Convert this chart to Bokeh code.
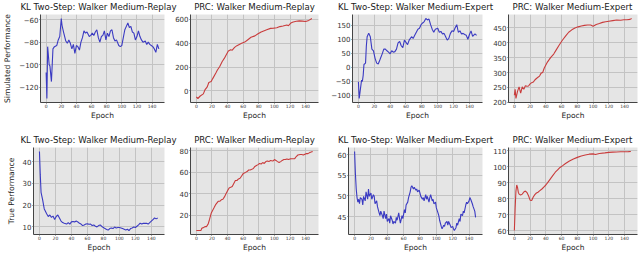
from bokeh.plotting import figure
from bokeh.layouts import column, row
from bokeh.models import Range1d, FixedTicker, Label
from bokeh.embed import file_html
from bokeh.resources import INLINE

FONT = "DejaVu Sans"

# ---------------- data ----------------
kl_replay_sim_epoch = [0, 1, 2, 4, 5, 7, 9, 11, 14, 16, 18, 20, 21, 23, 26, 28, 30, 32, 34, 36,
                       38, 40, 42, 44, 46, 48, 50, 52, 54, 57, 59, 61, 63, 65, 67, 69, 71, 73, 75, 77,
                       79, 81, 83, 85, 87, 89, 91, 93, 96, 98, 100, 102, 104, 106, 108, 110, 112, 114, 116, 118,
                       120, 122, 124, 126, 128, 131, 133, 135, 137, 139, 141, 143, 145, 147, 149]
kl_replay_sim_value = [-107, -130, -84, -100, -101, -115, -86, -84, -83, -78, -75, -59, -65, -71, -79, -81, -78, -81, -86, -82,
                       -90, -83, -84, -87, -80, -76, -70, -72, -71, -75, -74, -72, -74, -71, -69, -76, -80, -75, -74, -70,
                       -78, -72, -75, -70, -69, -76, -79, -78, -83, -84, -83, -76, -69, -66, -63, -67, -66, -71, -72, -78,
                       -75, -70, -75, -78, -80, -79, -82, -80, -82, -83, -84, -86, -89, -82, -86]

prc_replay_sim_epoch = [0, 2, 5, 9, 11, 14, 16, 19, 21, 25, 27, 30, 33, 36, 38, 41, 44, 46, 49, 52,
                        55, 58, 62, 66, 70, 75, 79, 83, 87, 91, 95, 99, 103, 107, 111, 116, 118, 121, 124, 128,
                        132, 136, 140, 144, 148]
prc_replay_sim_value = [-51, -64, -43, -25, 8, 34, 70, 78, 103, 150, 175, 205, 245, 275, 300, 335, 345, 342, 365, 380,
                        390, 400, 410, 430, 450, 462, 480, 495, 505, 515, 525, 527, 530, 540, 545, 553, 548, 570, 578, 585,
                        588, 586, 583, 592, 608]

kl_expert_sim_epoch = [0, 1, 2, 4, 5, 6, 7, 9, 10, 11, 13, 15, 17, 19, 21, 23, 25, 27, 30, 32,
                       34, 36, 38, 40, 42, 44, 46, 48, 50, 52, 54, 56, 58, 60, 62, 64, 67, 69, 71, 73,
                       75, 77, 79, 81, 83, 85, 87, 89, 91, 93, 95, 97, 100, 102, 104, 106, 108, 110, 112, 114,
                       116, 118, 120, 122, 124, 126, 128, 130, 132, 134, 136, 138, 140, 142, 144, 147, 149]
kl_expert_sim_value = [-51, -111, -89, -45, -50, -29, 10, 15, 76, 109, 122, 109, 65, 59, 32, 15, 12, 26, 48, 65,
                       65, 59, 54, 48, 59, 54, 56, 65, 87, 92, 77, 70, 97, 89, 81, 97, 109, 103, 114, 125,
                       136, 139, 152, 158, 163, 174, 169, 172, 152, 136, 125, 136, 139, 125, 128, 119, 121, 109, 97, 103,
                       121, 130, 128, 141, 152, 125, 130, 119, 121, 117, 114, 100, 117, 130, 110, 119, 114]

prc_expert_sim_epoch = [0, 1, 2, 4, 6, 8, 10, 12, 14, 16, 18, 20, 22, 24, 26, 28, 30, 32, 34, 36,
                        38, 42, 46, 50, 53, 57, 61, 65, 69, 73, 77, 81, 85, 89, 93, 97, 100, 104, 108, 112,
                        116, 120, 125, 130, 135, 139, 143, 147, 149]
prc_expert_sim_value = [224, 244, 213, 237, 252, 231, 252, 244, 256, 254, 255, 262, 266, 268, 275, 280, 284, 288, 298, 300,
                        315, 335, 350, 362, 375, 392, 408, 422, 435, 443, 449, 453, 456, 458, 459, 459, 455, 461, 464, 468,
                        470, 472, 474, 476, 475, 477, 477, 478, 481]

kl_replay_true_epoch = [0, 1, 2, 4, 6, 7, 9, 11, 13, 15, 17, 19, 21, 23, 25, 27, 29, 31, 34, 36,
                        38, 40, 42, 44, 46, 48, 50, 52, 54, 56, 58, 60, 62, 64, 66, 68, 70, 72, 74, 76,
                        78, 80, 82, 84, 86, 88, 90, 92, 94, 96, 98, 100, 102, 104, 106, 108, 110, 112, 114, 116,
                        118, 120, 122, 124, 126, 128, 130, 132, 134, 136, 138, 140, 142, 144, 146, 148]
kl_replay_true_value = [44.8, 34.3, 25.9, 22.4, 18.2, 17.5, 16.0, 14.7, 15.4, 14.3, 14.9, 13.3, 14.7, 15.4, 14.0, 12.6, 11.9, 11.6, 11.2, 11.9,
                        11.2, 12.2, 12.4, 12.2, 12.6, 12.2, 11.6, 11.2, 10.5, 10.8, 11.2, 11.3, 11.1, 11.2, 10.5, 10.8, 10.2, 9.9, 10.5, 10.8,
                        10.1, 9.6, 9.1, 8.7, 8.4, 9.1, 9.4, 9.1, 9.8, 9.4, 9.6, 9.6, 9.4, 9.1, 8.8, 8.5, 8.8, 8.2, 9.1, 9.4,
                        9.8, 9.6, 10.2, 10.8, 11.6, 11.2, 11.6, 11.5, 11.6, 11.2, 11.9, 12.6, 13.3, 14.0, 13.6, 14.0]

prc_replay_true_epoch = [0, 3, 6, 7, 9, 11, 13, 15, 17, 19, 21, 23, 25, 28, 30, 32, 34, 36, 38, 40,
                         42, 44, 46, 48, 50, 52, 54, 56, 58, 60, 63, 65, 67, 69, 71, 73, 75, 77, 79, 81,
                         83, 85, 87, 89, 91, 93, 95, 98, 100, 102, 104, 106, 108, 110, 112, 114, 116, 118, 120, 122,
                         124, 126, 128, 130, 133, 135, 137, 139, 141, 143, 145, 147, 149]
prc_replay_true_value = [5.9, 5.9, 6.1, 8.0, 8.6, 9.5, 9.5, 11.7, 16.4, 21.9, 24.7, 27.4, 30.2, 33.0, 33.0, 34.4, 34.9, 37.1, 39.9, 42.7,
                         45.4, 46.0, 46.8, 49.6, 52.3, 52.3, 53.7, 54.3, 56.5, 58.7, 59.8, 60.6, 62.0, 62.0, 62.6, 63.4, 65.3, 66.2, 67.0, 68.1,
                         67.6, 68.9, 68.1, 69.8, 70.3, 69.8, 70.9, 70.3, 71.7, 70.9, 69.8, 68.9, 69.8, 70.9, 71.7, 71.7, 72.3, 71.7, 72.3, 72.5,
                         72.5, 72.5, 74.5, 75.9, 76.4, 76.4, 75.9, 76.7, 77.2, 77.2, 78.1, 78.6, 79.2]

kl_expert_true_epoch = [0, 1, 2, 3, 4, 5, 6, 7, 9, 10, 11, 13, 14, 16, 17, 18, 20, 21, 23, 24,
                        25, 27, 28, 30, 31, 32, 34, 35, 36, 38, 39, 40, 42, 43, 44, 46, 47, 48, 50, 51,
                        52, 54, 55, 56, 58, 59, 61, 62, 63, 65, 66, 68, 69, 70, 72, 73, 75, 76, 77, 79,
                        80, 81, 83, 84, 85, 87, 88, 89, 91, 92, 93, 95, 96, 97, 99, 100, 102, 103, 104, 106,
                        107, 109, 110, 111, 113, 114, 115, 117, 118, 120, 121, 122, 124, 125, 126, 128, 129, 130, 132, 133,
                        134, 136, 137, 138, 140, 141, 142, 144, 145, 147, 148]
kl_expert_true_value = [60.8, 55.4, 51.7, 49.6, 48.5, 49.2, 48.1, 49.6, 49.2, 47.8, 49.9, 48.8, 51.0, 49.2, 51.7, 49.9, 50.7, 49.2, 50.3, 49.9,
                        48.1, 48.8, 47.4, 45.9, 45.2, 46.3, 45.2, 44.5, 46.3, 44.5, 45.6, 43.8, 44.5, 43.4, 45.2, 44.1, 43.2, 43.8, 43.4, 44.8,
                        44.1, 45.9, 44.5, 43.4, 45.2, 44.5, 46.7, 45.9, 47.8, 48.5, 49.6, 51.0, 52.1, 52.5, 51.7, 52.1, 51.4, 51.7, 51.0, 51.4,
                        50.7, 49.9, 49.2, 49.6, 48.8, 50.3, 49.2, 49.9, 48.5, 49.6, 50.3, 48.8, 49.2, 48.1, 48.5, 47.1, 45.9, 45.2, 44.1, 42.6,
                        42.0, 42.9, 42.6, 43.4, 43.8, 42.9, 43.8, 42.9, 42.3, 42.6, 42.0, 41.6, 42.3, 43.4, 42.9, 44.5, 43.8, 45.6, 45.2, 46.3,
                        45.9, 47.8, 48.5, 48.1, 48.8, 49.6, 49.2, 48.1, 47.4, 46.3, 44.8]

prc_expert_true_epoch = [0, 1, 2, 3, 4, 5, 6, 8, 10, 12, 14, 16, 18, 20, 22, 24, 26, 28, 30, 32,
                         35, 38, 40, 43, 46, 49, 52, 55, 58, 61, 65, 70, 75, 80, 85, 90, 95, 100, 103, 108,
                         115, 120, 125, 130, 135, 140, 145, 148]
prc_expert_true_value = [60, 74, 84.7, 88.5, 87, 84, 82.8, 82.3, 82.8, 84.1, 84.7, 83.8, 81.8, 79, 78.8, 81, 82.5, 83.5, 84, 84.8,
                         86, 87.5, 88.5, 90.5, 92.5, 94.5, 96.5, 98, 99.5, 100.5, 102, 103.5, 104.8, 105.8, 106.7, 107.3, 107.8, 108, 107.6, 108.2,
                         108.6, 108.9, 109.1, 109.2, 109.3, 109.3, 109.4, 109.5]

x_tick_values = [0, 20, 40, 60, 80, 100, 120, 140]
ticks_kl_replay_sim = [-120, -100, -80, -60]
ticks_prc_replay_sim = [0, 200, 400, 600]
ticks_kl_expert_sim = [-100, -50, 0, 50, 100, 150]
ticks_prc_expert_sim = [200, 250, 300, 350, 400, 450]
ticks_kl_replay_true = [10, 20, 30, 40]
ticks_prc_replay_true = [20, 40, 60, 80]
ticks_kl_expert_true = [45, 50, 55, 60]
ticks_prc_expert_true = [60, 70, 80, 90, 100, 110]

panel_titles = ["KL Two-Step: Walker Medium-Replay", "PRC: Walker Medium-Replay",
                "KL Two-Step: Walker Medium-Expert", "PRC: Walker Medium-Expert"]
row_labels = ["Simulated Performance", "True Performance"]
x_label = "Epoch"

# ---------------- styling / layout ----------------
BLUE = "#3a3ac2"
RED = "#c93c3c"
BG = "#e5e5e5"
GRID = "#c3c3c3"
PAGE_W = 640
FIG_W = [170, 158, 162, 150]
BORDER_L = [33, 20, 20, 17]
BORDER_R = [6, 10, 8, 3]
TITLE_X = [98, 254, 415, 572]
FRAME_H = 91

all_epochs = (kl_replay_sim_epoch + prc_replay_sim_epoch + kl_expert_sim_epoch + prc_expert_sim_epoch +
              kl_replay_true_epoch + prc_replay_true_epoch + kl_expert_true_epoch + prc_expert_true_epoch)
E_LO, E_HI = min(all_epochs), max(all_epochs)
X_PAD = 0.05 * (E_HI - E_LO)


def panel(k, epochs, values, yticks, color, top, bottom, ylabel=None):
    lo, hi = min(values), max(values)
    pad = 0.05 * (hi - lo)
    p = figure(width=FIG_W[k], height=top + FRAME_H + bottom, title=None,
               x_range=Range1d(E_LO - X_PAD, E_HI + X_PAD),
               y_range=Range1d(lo - pad, hi + pad),
               output_backend="svg", toolbar_location=None,
               min_border_left=BORDER_L[k], min_border_right=BORDER_R[k],
               min_border_top=top, min_border_bottom=bottom)
    p.background_fill_color = BG
    p.border_fill_color = "white"
    p.outline_line_color = None
    p.line(epochs, values, line_color=color, line_width=1.1)

    xt = FixedTicker(ticks=x_tick_values)
    yt = FixedTicker(ticks=yticks)
    xa = p.xaxis[0]
    ya = p.yaxis[0]
    xa.ticker = xt
    ya.ticker = yt
    p.xgrid.ticker = xt
    p.ygrid.ticker = yt
    p.grid.grid_line_color = GRID
    p.grid.grid_line_width = 1
    for ax in (xa, ya):
        ax.axis_line_color = "#444444"
        ax.major_tick_line_color = "#555555"
        ax.minor_tick_line_color = None
        ax.major_tick_in = 0
        ax.major_label_text_font = FONT
        ax.major_label_text_color = "#333333"
        ax.axis_label_text_font = FONT
        ax.axis_label_text_font_style = "normal"
        ax.axis_label_text_color = "#222222"
    xa.major_tick_out = 1
    xa.major_label_standoff = 0
    xa.major_label_text_font_size = "4.5px"
    xa.axis_label = x_label
    xa.axis_label_text_font_size = "7.5px"
    xa.axis_label_standoff = 0
    ya.major_tick_out = 1
    ya.major_label_standoff = 1
    ya.major_label_text_font_size = "7px"
    if ylabel:
        ya.axis_label = ylabel
        ya.axis_label_text_font_size = "7.6px"
        ya.axis_label_standoff = 4
    return p


def title_strip(h, top_gap):
    s = figure(width=PAGE_W, height=h, title=None, x_range=Range1d(0, PAGE_W), y_range=Range1d(0, h),
               x_axis_type=None, y_axis_type=None, output_backend="svg",
               toolbar_location=None, min_border=0)
    s.outline_line_color = None
    for t, cx in zip(panel_titles, TITLE_X):
        s.add_layout(Label(x=cx, y=h - top_gap, text=t, text_align="center",
                           text_baseline="top", text_font=FONT,
                           text_font_size="8.6px", text_color="#1a1a1a"))
    return s


top = [
    panel(0, kl_replay_sim_epoch, kl_replay_sim_value, ticks_kl_replay_sim, BLUE, 1, 17, row_labels[0]),
    panel(1, prc_replay_sim_epoch, prc_replay_sim_value, ticks_prc_replay_sim, RED, 1, 17),
    panel(2, kl_expert_sim_epoch, kl_expert_sim_value, ticks_kl_expert_sim, BLUE, 1, 17),
    panel(3, prc_expert_sim_epoch, prc_expert_sim_value, ticks_prc_expert_sim, RED, 1, 17),
]
bottom = [
    panel(0, kl_replay_true_epoch, kl_replay_true_value, ticks_kl_replay_true, BLUE, 1, 16, row_labels[1]),
    panel(1, prc_replay_true_epoch, prc_replay_true_value, ticks_prc_replay_true, RED, 1, 16),
    panel(2, kl_expert_true_epoch, kl_expert_true_value, ticks_kl_expert_true, BLUE, 1, 16),
    panel(3, prc_expert_true_epoch, prc_expert_true_value, ticks_prc_expert_true, RED, 1, 16),
]

layout = column(title_strip(13, 1), row(*top, spacing=0),
                title_strip(24, 12), row(*bottom, spacing=0), spacing=0)

open("out.html", "w").write(file_html(layout, INLINE))
